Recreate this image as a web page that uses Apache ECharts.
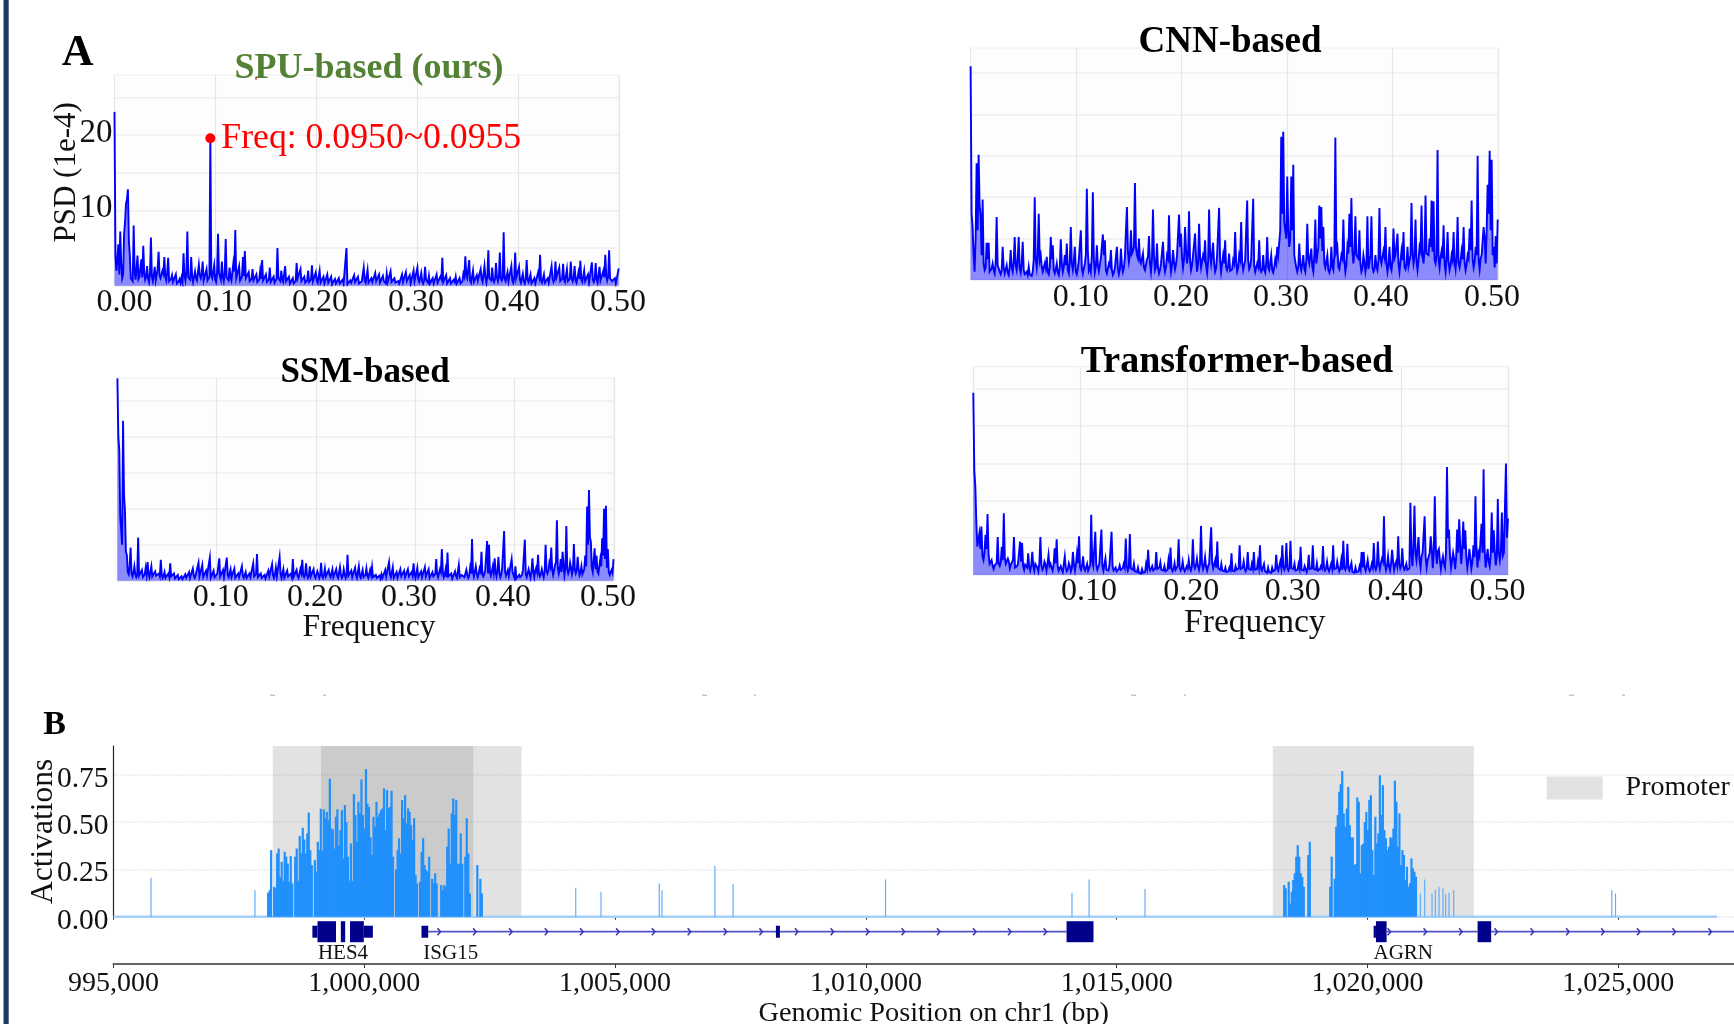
<!DOCTYPE html>
<html><head><meta charset="utf-8">
<style>html,body{margin:0;padding:0;background:#fff}#c{width:1734px;height:1024px}</style>
<script src="https://cdn.jsdelivr.net/npm/echarts@6/dist/echarts.min.js"></script>
</head><body><div id="c"></div>
<script>
const FREQ_STEP = 0.0019;
const freqTicks = ['0.10','0.20','0.30','0.40','0.50'];
const spuTicks = ['0.00','0.10','0.20','0.30','0.40','0.50'];
const spuValues = [
23.1,2.0,5.5,7.2,1.0,6.8,10.9,12.8,4.0,1.0,
8.0,0.8,4.0,1.2,3.5,5.3,0.8,2.6,0.5,6.4,
0.6,2.5,0.9,4.5,1.0,2.0,3.8,0.7,3.7,0.5,
1.4,0.4,1.5,0.4,0.9,1.1,4.3,0.7,7.2,1.0,
3.8,0.5,1.9,0.7,2.8,1.0,3.2,0.5,2.2,0.8,
19.6,1.0,2.7,0.5,6.9,1.6,3.2,0.6,6.2,1.0,
2.4,0.7,3.0,7.4,0.9,2.6,0.5,3.8,4.6,0.8,
1.8,0.5,2.2,0.6,1.5,0.4,2.0,3.4,0.6,1.5,
0.5,2.4,0.4,1.2,0.6,5.0,0.8,2.0,0.5,2.6,
0.6,1.2,0.3,1.0,0.4,3.0,0.8,2.2,0.4,1.2,
0.6,2.0,0.3,2.7,0.5,1.8,0.4,2.0,0.5,1.2,
0.4,1.5,0.3,1.2,0.5,0.9,0.3,1.0,0.3,0.8,
0.3,5.0,0.3,0.7,0.2,1.4,0.3,1.2,0.2,0.6,
2.4,0.4,2.1,0.4,1.0,0.3,1.7,0.4,1.5,0.3,
1.3,0.4,1.6,0.3,1.9,0.4,1.0,0.3,0.6,0.3,
1.5,0.3,1.8,0.4,1.4,0.3,2.0,0.4,2.4,0.5,
1.7,0.3,2.5,0.6,1.3,0.3,1.0,0.3,1.5,0.4,
1.2,3.7,0.3,1.4,0.3,1.0,0.4,0.8,1.2,0.3,
1.0,0.3,1.6,3.9,1.0,3.4,0.4,2.0,0.5,1.4,
0.6,2.2,0.5,2.6,0.4,4.7,0.9,2.4,0.5,3.0,
0.6,4.4,0.7,7.1,0.6,1.8,0.5,2.6,0.4,4.4,
1.0,2.5,0.4,1.6,0.3,3.4,0.5,1.5,0.4,1.0,
0.3,1.8,4.1,0.4,1.5,0.3,1.0,0.3,2.6,0.5,
3.2,1.0,2.4,0.4,2.9,0.5,2.2,0.4,3.2,0.6,
2.6,0.4,1.8,3.3,0.5,2.0,0.4,1.5,0.3,3.1,
0.5,3.0,0.4,2.5,0.6,2.0,4.1,0.7,4.7,1.2,0.4,1.0,0.3,2.3];
const spuBetween = [
4.0,3.5,1.5,3.0,1.5,8.5,11.5,6.0,1.0,0.6,
2.0,2.4,0.9,2.4,1.1,1.8,1.2,1.0,1.6,1.2,
1.5,0.7,2.2,1.4,1.0,1.6,1.2,1.8,0.6,0.9,
0.5,0.7,0.3,0.6,0.4,0.5,1.4,1.8,1.1,0.8,
1.3,0.6,1.0,0.9,1.4,1.6,0.7,0.9,0.7,1.2,
1.4,0.9,0.8,1.8,1.7,0.8,1.2,1.6,1.1,0.7,
1.1,0.8,1.9,1.0,0.9,0.7,1.2,1.3,1.0,0.9,
0.6,0.9,0.7,0.6,0.5,0.8,0.9,0.7,0.6,0.5,
0.8,0.5,0.7,0.4,0.9,1.0,0.6,0.8,0.7,0.6,
0.4,0.3,0.5,0.3,0.6,1.0,0.8,0.6,0.5,0.4,
0.7,0.5,0.8,0.6,0.5,0.7,0.6,0.4,0.5,0.3,
0.5,0.4,0.3,0.2,0.4,0.3,0.4,0.3,0.2,0.3,
0.3,0.2,0.3,0.4,0.3,0.5,0.4,0.3,0.3,0.6,
0.7,0.5,0.4,0.3,0.5,0.4,0.6,0.5,0.4,0.5,
0.6,0.3,0.5,0.4,0.5,0.3,0.4,0.3,0.3,0.4,
0.5,0.4,0.6,0.4,0.3,0.5,0.6,0.7,0.8,0.5,
0.6,0.7,0.8,0.4,0.3,0.4,0.3,0.5,0.4,0.3,
0.9,0.5,0.4,0.3,0.4,0.3,0.2,0.5,0.3,0.4,
0.3,0.6,1.2,1.4,1.1,0.7,0.6,0.5,0.6,0.7,
0.8,0.9,0.7,1.1,1.3,1.0,0.7,0.8,0.9,1.1,
1.2,1.0,1.1,0.9,0.7,0.6,0.8,0.7,1.1,1.0,
0.9,0.8,0.5,0.6,0.9,0.8,0.4,0.3,0.4,0.3,
0.5,1.2,0.7,0.5,0.4,0.3,0.4,0.6,0.9,0.9,
1.1,0.9,0.6,0.9,0.8,0.7,0.6,0.9,1.0,1.1,
0.7,0.6,0.9,0.8,0.7,0.6,0.5,0.4,0.6,0.8,
0.9,0.8,0.6,0.7,0.8,1.1,1.4,1.2,1.0,0.6,0.4,0.3,0.5];
const cnnValues = [
25.8,6.4,1.0,14.1,15.1,7.7,9.7,1.2,4.5,4.5,
1.0,2.0,0.8,7.6,2.0,0.7,4.0,0.8,1.8,0.6,
3.6,1.0,5.2,1.2,5.2,0.9,4.6,0.7,1.0,1.6,
0.6,1.0,10.0,1.5,8.0,3.0,1.0,2.0,2.8,0.7,
5.2,4.2,0.8,2.0,0.6,4.9,1.0,3.0,4.4,0.8,
6.4,1.2,4.0,0.7,2.4,6.0,0.8,2.0,11.0,1.2,
1.0,10.6,0.9,4.2,1.1,2.6,5.5,4.8,0.8,2.0,
3.6,0.6,1.5,4.0,0.7,3.8,1.0,2.8,8.8,2.2,
6.0,3.5,11.7,3.0,5.0,2.0,3.2,1.2,2.5,5.3,
1.0,8.5,1.2,4.4,0.8,2.0,4.6,1.0,3.0,7.8,
1.0,3.6,1.3,3.0,7.9,5.6,1.5,6.4,2.0,8.3,
1.2,3.0,5.6,1.0,6.8,1.5,3.0,4.8,0.9,8.5,
2.0,4.5,1.0,3.0,8.7,1.0,3.0,4.8,1.2,3.2,
0.9,2.4,5.8,1.0,3.0,7.0,1.2,2.4,9.6,1.3,
2.5,9.8,1.0,2.0,4.8,1.0,3.0,0.9,5.2,1.2,
3.0,0.9,2.5,4.0,3.0,17.3,17.9,6.0,12.5,4.0,
12.5,13.9,3.0,1.0,4.4,1.2,3.0,1.0,6.8,2.0,
3.8,1.0,7.3,3.0,9.0,8.8,6.4,1.5,3.0,0.9,
4.0,1.2,17.2,4.0,1.3,3.0,7.3,1.0,4.0,8.0,
9.9,2.0,7.7,3.0,6.0,1.0,3.0,1.0,7.7,1.2,
7.7,1.0,3.0,1.2,8.7,2.0,3.5,6.4,1.0,4.0,
1.2,6.2,3.0,5.6,1.0,3.5,5.8,1.3,4.0,1.5,
9.3,2.0,7.3,1.2,4.0,9.0,2.0,10.2,3.0,5.0,
9.6,9.5,2.0,15.7,1.5,3.5,6.6,1.0,5.8,1.2,
3.0,5.8,1.3,7.6,1.5,3.5,6.4,1.2,3.0,6.2,
9.6,1.5,4.0,15.0,1.3,3.0,6.4,2.0,11.5,15.6,14.5,4.0,5.3,7.3];
const cnnBetween = [
8.0,3.0,5.0,6.0,9.0,3.0,2.0,1.5,2.5,1.0,
1.4,1.2,2.0,1.8,1.0,1.2,1.5,1.0,0.9,1.6,
1.5,2.2,1.8,2.5,1.4,2.0,1.2,0.8,0.6,0.7,
0.5,2.5,2.5,3.0,2.4,1.6,1.2,1.4,1.0,1.5,
2.5,1.2,1.3,0.9,1.5,2.0,1.6,1.8,1.2,2.2,
2.0,2.2,1.0,1.4,2.6,1.5,1.0,3.0,3.5,1.6,
3.0,2.5,1.6,1.8,1.3,2.4,3.0,1.2,1.0,1.7,
1.2,0.9,1.6,1.4,1.3,1.8,1.5,3.0,3.5,3.0,
3.2,4.0,4.0,2.6,2.4,2.0,1.5,1.4,2.8,2.0,
2.5,3.0,1.6,1.5,1.2,2.2,1.8,1.6,2.6,2.4,
1.8,2.2,1.9,3.0,4.0,2.8,2.5,3.6,3.0,2.4,
1.8,3.0,2.6,2.0,2.8,1.7,2.6,1.8,2.2,3.0,
2.1,2.0,1.4,3.2,2.4,1.2,2.0,1.6,1.7,1.1,
1.3,2.0,2.2,1.4,2.5,2.1,1.4,2.6,2.4,1.6,
2.5,1.8,1.2,1.6,1.4,1.3,1.2,2.0,1.5,1.4,
1.2,1.5,2.0,3.0,6.0,8.0,7.0,5.0,6.0,5.0,
6.0,3.0,1.5,1.6,1.8,2.0,1.4,2.4,2.6,2.2,
1.6,3.0,2.0,4.0,5.0,3.5,2.0,1.6,1.2,1.4,
1.6,3.0,3.5,1.6,1.5,2.6,2.4,1.8,3.2,4.0,
3.5,3.4,3.0,2.6,2.0,1.4,2.2,1.8,1.3,3.0,
1.5,1.3,1.6,2.4,2.6,2.1,2.8,2.0,1.9,1.6,
2.4,2.6,2.8,2.0,2.2,2.4,1.6,1.9,1.7,3.0,
3.2,3.0,2.2,2.4,3.5,3.0,3.6,3.2,3.0,4.0,
3.4,2.4,3.0,2.5,2.8,2.6,2.0,2.5,2.2,1.8,
2.4,2.2,2.8,2.0,2.3,2.5,2.1,1.9,2.6,3.6,
2.5,2.2,3.0,2.4,2.6,3.0,5.0,6.0,8.0,6.0,3.0,1.5,2.0];
const ssmValues = [
28.1,18.1,7.0,22.2,9.8,3.6,0.9,4.6,0.6,2.0,
0.5,6.0,0.6,1.5,0.4,1.8,2.6,0.5,2.0,0.4,
1.3,0.5,1.0,2.9,0.4,1.2,0.3,1.0,2.4,0.4,
1.0,0.3,0.8,0.3,0.6,0.3,0.9,0.4,1.2,0.3,
1.7,0.4,1.0,2.5,0.5,2.2,0.4,1.4,0.5,3.2,
0.4,1.4,0.3,1.0,3.1,0.4,1.5,0.3,3.2,0.5,
1.6,0.3,1.7,0.4,1.0,0.3,2.0,0.4,1.2,0.3,
1.0,0.3,2.4,0.4,3.7,0.5,1.0,0.3,0.8,0.3,
1.4,0.4,2.3,0.4,1.8,0.5,3.3,0.4,1.6,0.3,
1.4,0.4,1.0,3.0,0.4,1.5,0.4,1.6,2.9,0.5,
2.4,0.4,2.0,0.5,1.6,0.4,1.3,0.4,2.5,0.4,
1.7,0.4,1.5,0.5,1.6,0.3,1.6,0.4,1.9,0.4,
1.6,0.4,3.6,0.5,1.4,0.4,1.8,0.4,2.0,0.4,
1.5,0.3,1.7,0.4,1.5,1.9,0.3,0.8,0.3,0.7,
0.9,0.3,1.5,0.4,2.6,0.5,1.9,0.3,1.2,0.3,
1.6,0.4,1.4,0.3,1.6,0.4,1.2,2.4,0.4,1.8,
0.4,1.3,0.3,1.9,0.4,1.6,0.3,1.2,0.5,3.0,
0.5,1.6,4.4,0.5,1.6,3.9,0.4,1.0,0.3,1.3,
0.4,2.2,0.4,1.0,0.5,1.5,0.4,1.8,5.8,0.6,
2.0,0.5,1.7,4.0,0.6,1.5,5.5,5.0,0.7,2.0,
3.1,0.6,3.3,0.5,1.8,6.9,0.7,1.5,0.6,3.0,
0.8,2.0,0.4,0.8,0.3,1.5,5.7,0.5,1.6,0.4,
3.1,0.5,1.8,3.6,0.6,1.6,0.5,5.0,1.0,2.5,
4.6,0.8,2.2,8.4,1.0,3.0,4.0,0.8,7.6,1.0,
2.5,0.9,5.1,1.0,3.3,0.8,2.0,1.0,3.5,10.3,
12.6,5.4,1.2,4.5,3.5,1.0,3.0,5.9,10.0,10.4,4.4,0.8,1.5,3.0];
const ssmBetween = [
20.0,9.0,5.0,12.0,4.0,1.2,2.0,1.0,1.1,0.9,
0.8,0.7,0.6,0.5,0.9,0.8,1.0,0.7,0.6,0.8,
0.7,0.5,0.6,0.9,0.7,0.4,0.3,0.5,0.6,0.4,
0.3,0.3,0.2,0.3,0.2,0.3,0.4,0.5,0.4,0.6,
0.7,0.8,0.9,0.6,0.7,0.5,0.6,0.7,0.5,0.4,
0.6,0.5,0.7,0.8,0.6,0.5,0.5,0.7,0.8,0.4,
0.5,0.6,0.4,0.3,0.5,0.6,0.7,0.5,0.4,0.3,
0.5,0.7,0.6,0.9,0.5,0.3,0.4,0.2,0.3,0.4,
0.6,0.7,0.8,0.9,0.6,0.8,1.0,0.6,0.4,0.5,
0.6,0.7,0.5,0.6,0.8,0.7,0.9,1.1,0.8,0.9,
0.8,0.7,0.6,0.8,0.7,0.6,0.9,0.8,0.7,0.8,
0.6,0.7,0.8,0.7,0.5,0.6,0.7,0.6,0.8,0.7,
0.9,0.8,0.7,0.6,0.5,0.7,0.8,0.6,0.7,0.6,
0.5,0.8,0.7,0.6,0.8,0.5,0.3,0.4,0.3,0.3,
0.4,0.5,0.6,0.8,0.9,0.6,0.4,0.5,0.4,0.5,
0.6,0.4,0.5,0.4,0.6,0.5,0.7,0.9,0.6,0.5,
0.4,0.5,0.4,0.6,0.5,0.4,0.3,0.6,0.9,1.0,
0.7,1.2,1.3,0.8,0.5,0.6,0.4,0.3,0.5,0.7,
0.6,0.5,0.8,0.9,0.6,0.8,0.7,1.0,1.2,0.8,
1.0,0.9,1.3,1.0,0.9,1.6,1.0,1.2,1.3,1.1,
1.2,1.4,1.1,0.9,1.6,1.3,0.8,0.7,0.9,1.2,
0.4,0.3,0.3,0.5,0.8,1.6,0.9,0.7,1.0,1.2,
1.3,1.4,1.2,1.0,0.9,1.8,1.2,1.5,1.4,2.0,
1.6,1.4,2.5,1.8,1.6,1.2,2.4,1.8,1.6,1.4,
1.8,1.5,1.6,1.4,1.6,1.2,0.9,1.6,2.0,5.0,
6.0,1.8,1.4,1.6,1.3,1.1,2.0,3.5,3.0,1.8,1.2,0.9,1.1];
const transformerValues = [
24.5,11.9,3.8,5.6,6.5,2.0,5.4,8.2,1.5,2.0,
0.8,1.5,5.1,1.2,3.8,8.3,1.5,2.2,0.9,1.6,
5.1,0.8,1.5,4.5,4.3,0.7,1.2,2.9,0.6,3.1,
0.6,1.4,0.5,5.1,0.7,1.8,0.6,2.7,1.5,0.6,
3.6,4.8,0.6,1.2,0.4,2.5,0.5,1.6,0.5,3.1,
0.6,2.9,5.2,0.7,2.5,0.6,1.5,0.5,8.1,1.2,
5.8,0.7,1.5,6.1,0.6,2.2,0.5,1.4,5.8,0.6,
1.0,0.4,1.3,0.5,1.5,4.9,0.6,5.5,0.7,1.5,
0.4,1.0,0.3,0.8,0.3,1.5,3.4,0.6,1.2,0.5,
3.1,0.6,1.7,0.5,1.2,0.6,2.0,3.7,0.5,1.6,
0.6,4.8,0.6,1.8,0.5,1.2,2.0,0.6,4.8,0.9,
2.2,0.7,6.6,0.8,2.4,0.6,1.5,6.4,0.9,2.0,
4.5,0.7,1.5,0.5,1.0,0.4,1.0,2.9,0.4,1.2,
0.6,4.0,0.6,1.8,0.5,3.1,0.6,1.5,3.1,0.5,
1.8,4.0,0.6,1.5,0.4,1.0,0.3,1.0,0.4,2.7,
0.6,1.8,4.0,0.7,4.3,0.6,4.6,0.7,1.5,0.4,
1.5,3.8,0.5,1.2,0.4,2.7,0.6,4.0,0.6,1.6,
0.4,1.2,3.9,0.6,1.8,0.5,1.5,4.0,0.6,1.8,
0.5,2.0,4.6,0.7,4.2,0.6,1.6,0.4,1.0,0.3,
1.2,3.1,3.1,0.6,2.0,0.5,1.5,4.3,0.7,4.5,
0.8,2.2,7.9,0.7,2.5,0.6,3.4,0.7,1.8,5.2,
0.9,3.6,0.7,1.5,0.6,9.7,1.2,9.3,2.0,5.1,
1.0,3.0,7.9,1.0,2.5,5.2,0.9,10.6,1.5,3.5,
0.8,2.5,1.0,14.5,6.1,1.0,3.0,0.8,6.1,7.5,
1.5,7.2,6.0,1.0,3.5,0.9,4.0,10.6,1.0,2.5,
6.9,14.2,1.0,3.5,1.2,8.4,6.0,1.3,10.2,2.0,8.4,3.0,15.0,7.6];
const transformerBetween = [
14.0,7.0,4.0,3.5,2.5,3.0,3.5,2.8,1.5,1.2,
1.3,1.6,1.5,1.7,2.0,2.4,1.6,1.8,1.4,2.0,
1.0,1.2,1.5,1.8,1.2,1.4,1.0,1.1,1.3,1.2,
1.5,1.0,1.6,1.3,1.0,1.4,1.5,1.2,1.0,1.3,
1.6,1.2,0.9,0.7,0.5,0.9,0.8,1.2,1.0,1.4,
1.5,1.6,1.0,1.3,0.9,0.7,0.6,1.3,1.8,1.4,
1.3,0.9,1.4,1.2,0.8,0.7,0.6,1.3,1.2,0.6,
0.5,0.8,0.7,0.9,1.0,1.2,1.0,0.9,0.7,0.5,
0.4,0.3,0.2,0.3,0.4,0.9,1.0,0.7,0.6,0.9,
0.8,1.0,0.7,0.6,0.5,0.7,0.8,0.9,0.8,0.7,
1.2,1.0,0.9,0.8,0.7,0.9,1.0,1.1,1.4,1.3,
1.2,1.4,1.6,1.3,1.1,1.2,1.5,1.6,1.1,1.0,
0.9,0.7,0.6,0.5,0.4,0.5,0.7,0.6,0.5,0.7,
0.9,0.8,1.0,0.8,0.9,0.8,0.7,0.9,0.7,0.8,
1.0,0.9,0.6,0.5,0.3,0.4,0.3,0.5,0.7,0.9,
0.8,1.0,1.1,1.2,0.9,1.0,0.9,0.8,0.6,0.7,
0.9,0.7,0.6,0.8,0.9,0.8,0.9,0.8,0.7,0.6,
0.8,0.9,1.0,0.9,0.8,0.7,0.9,0.8,0.9,1.0,
0.9,0.7,1.0,1.1,0.9,0.7,0.4,0.3,0.4,0.5,
0.7,1.0,1.1,1.2,0.9,0.8,1.0,1.1,1.2,1.5,
1.6,1.8,1.5,1.3,1.1,1.6,1.8,1.4,1.2,1.5,
1.3,1.2,1.0,0.7,0.9,3.0,4.0,3.0,3.5,2.0,
2.5,3.0,2.4,2.0,3.0,3.5,3.0,3.6,3.2,2.0,
1.8,1.5,3.0,5.0,2.5,2.0,2.2,2.4,3.0,4.0,
3.6,3.5,2.5,2.0,2.2,1.8,2.4,3.4,3.0,2.5,
3.0,3.5,2.2,1.8,2.6,3.0,3.2,2.5,3.0,3.2,2.6,3.0,5.0];
// frequencies at which the (hand-placed) tick labels sit in each panel
const spuLabelAt = [0.0099,0.1085,0.2037,0.2988,0.3940,0.4990];
const cnnLabelAt = [0.1045,0.1995,0.2943,0.3891,0.4943];
const ssmLabelAt = [0.1040,0.1990,0.2937,0.3884,0.4942];
const transformerLabelAt = [0.1081,0.2038,0.2986,0.3945,0.4900];
const highlightPoint = [[0.095,19.6]];
const highlightText = 'Freq: 0.0950~0.0955';

const ACT_STEP = 30;
const act1Start = 998073;
const act1Values = [.127,.14,.352,0,.158,.15,.334,.36,.21,.29,.19,.343,.317,.28,.185,.32,.176,0,.317,.36,.19,.426,.334,.47,.408,.334,.44,.55,.352,.273,0,.30,.238,.396,.352,.57,.35,.567,.52,.554,.51,.73,.466,.46,.36,.528,.567,.378,.458,.563,.308,.59,.50,.317,.19,.387,.19,.648,.537,.396,.607,.546,.725,.537,.466,.78,.598,.58,.42,.326,.528,.475,
.607,.528,.546,.563,.572,.678,.458,.669,.572,.58,.665,.317,0,.25,.352,.414,.334,.616,.52,.642,.493,.572,.554,.484,.405,.52,.22,.176,0,.185,.343,.414,.273,.246,.238,.317,0,.2,.176,.229,.176,0,0,.167,.14,.167,.158,.37,.466,.28,.546,.625,.537,.616,.28,.28,.44,.28,0,.317,.52,.334,.123,0,0,0,0,.273,0,.2,.123];
const act2Start = 1018329;
const act2Values = [.167,.15,0,.185,.07,.132,.194,.229,.317,.378,.317,.229,.21,.158,0,0,.326,.396];
const act3Start = 1019246;
const act3Values = [.158,.317,0,.2,.475,.537,.66,.70,.77,.546,.475,.572,.686,.484,.419,.419,.273,.278,.63,.607,.229,.378,.387,.50,.554,.458,.616,.642,.352,.22,.528,.387,.44,.748,.537,.695,.458,.414,.352,.37,.42,.414,.466,.718,.607,.37,.546,.273,.352,.326,.194,.264,.158,.176,.308,.255,.238,.211];
const actSpikes = [[995748,.206],[997820,.14],[1004215,.153],[1004719,.132],[1005880,.176],[1005935,.14],[1006990,.268],[1007352,.172],[1010391,.197],[1014108,.127],[1014450,.197],[1015564,.146],[1021053,.123],[1021139,.197],[1021286,.123],[1021352,.144],[1021425,.158],[1021505,.15],[1021558,.12],[1021625,.127],[1021718,.14],[1024870,.14],[1024944,.123]];
const actBaseline = [[995000,0],[1026970,0]];
const promoters = [[998176,1002172],[999137,1003134],[1018113,1022119]];
const genomicTicks = [995000,1000000,1005000,1010000,1015000,1020000,1025000];
const activationTicks = [0,0.25,0.5,0.75];
const geneLines = [[1001274,1014000],[1020380,1022194],[1022465,1027306]];
const geneThin = [[998965,999067],[999990,1000171],[1001140,1001274],[1008206,1008285],[1020122,1020168]];
const geneThick = [[999067,999436],[999532,999619],[999715,999990],[1014000,1014537],[1020168,1020380],[1022194,1022465]];
const geneArrows = [1001489,1002199,1002917,1003628,1004332,1005050,1005763,1006477,1007195,1007907,1008615,1009327,1010030,1010742,1011447,1012165,1012863,1013573,1020429,1021147,1021856,1022562,1023280,1023990,1024689,1025401,1026110,1026827];
const geneNames = [['HES4',999575],['ISG15',1001724],['AGRN',1020712]];

const FONT = 'Liberation Serif';
const psdTicks = [0,5,10,15,20,25];
const FREQ_MAX = 0.5, PSD_MAX = 28;
const GENOME_MIN = 995000, GENOME_MAX = 1027306;
const ACT_MAX = 0.902;
const GENE_Y = 0.687, GENE_LABEL_Y = 0.22;

// each spectrum alternates its read peaks with the low values read between them
const toSpectrum = (vs,mid) => {const out=[];vs.forEach((v,i)=>{out.push([+(i*FREQ_STEP).toFixed(5),v]);
  if(i<vs.length-1&&mid[i]!==undefined)out.push([+((i+0.5)*FREQ_STEP).toFixed(5),mid[i]]);});return out;};
const toAct = (start,vs) => vs.map((v,i)=>[start+i*ACT_STEP,v]).filter(d=>d[1]>0);

const panelLayout = [
 {left:114.5,right:619,top:75,bottom:285.7,max:PSD_MAX,vals:spuValues,mid:spuBetween,ticks:spuTicks,at:spuLabelAt,margin:1},
 {left:970.6,right:1498,top:48,bottom:280,max:PSD_MAX,vals:cnnValues,mid:cnnBetween,ticks:freqTicks,at:cnnLabelAt,margin:2},
 {left:117.4,right:613.8,top:378,bottom:580.7,max:28.15,vals:ssmValues,mid:ssmBetween,ticks:freqTicks,at:ssmLabelAt,margin:1,xname:1,pad:7,nameSize:31.5,nameGap:31.5},
 {left:973.3,right:1508.3,top:366.7,bottom:575,max:PSD_MAX,vals:transformerValues,mid:transformerBetween,ticks:freqTicks,at:transformerLabelAt,margin:1,xname:1,pad:28,nameSize:33.5,nameGap:31}
];
const grids=[],xAxes=[],yAxes=[],series=[];
panelLayout.forEach((p,i)=>{
 grids.push({left:p.left,width:p.right-p.left,top:p.top,height:p.bottom-p.top,outerBoundsMode:'none',show:true,backgroundColor:'#fdfdfd',borderColor:'#eeeeee',borderWidth:1});
 xAxes.push({gridIndex:i,type:'value',min:0,max:FREQ_MAX,interval:0.1,
  axisLine:{show:false},axisTick:{show:false},
  splitLine:{show:true,lineStyle:{color:'#e6e6e6',width:1.2}},
  axisLabel:{show:true,customValues:p.at,margin:p.margin,fontFamily:FONT,fontSize:32,color:'#111',hideOverlap:false,
   formatter:v=>{const k=p.at.findIndex(a=>Math.abs(a-v)<1e-6);return k>=0?p.ticks[k]:'';}},
  name:p.xname?'Frequency':'',nameLocation:'middle',nameGap:p.nameGap||31,nameMoveOverlap:false,
  nameTextStyle:{fontFamily:FONT,fontSize:p.nameSize||30,color:'#111',padding:[0,0,0,p.pad||0]}});
 yAxes.push({gridIndex:i,type:'value',min:0,max:p.max,
  axisLine:{show:false},axisTick:{show:false,customValues:psdTicks},
  splitLine:{show:true,lineStyle:{color:'#eeeeee',width:1.5}},
  axisLabel:i===0?{show:true,customValues:[10,20],margin:2,fontFamily:FONT,fontSize:33,color:'#111',verticalAlign:'top',padding:[-18.7,0,0,0]}:{show:false},
  name:i===0?'PSD (1e-4)':'',nameLocation:'middle',nameRotate:90,nameGap:32,nameMoveOverlap:false,
  nameTextStyle:{fontFamily:FONT,fontSize:31,color:'#111',padding:[0,0,0,16]}});
 series.push({type:'line',name:'PSD'+i,xAxisIndex:i,yAxisIndex:i,data:toSpectrum(p.vals,p.mid),showSymbol:false,symbol:'none',
  lineStyle:{color:'#0000ff',width:1.9,join:'miter'},areaStyle:{color:'#0000ff',opacity:0.45},sampling:false,animation:false,z:3});
});
series.push({type:'scatter',xAxisIndex:0,yAxisIndex:0,data:highlightPoint,symbolSize:10,itemStyle:{color:'#ff0000',opacity:1},z:5,animation:false,
 label:{show:true,position:'right',distance:6,formatter:highlightText,fontFamily:FONT,fontSize:35.7,color:'#ff0000',opacity:1}});

// Panel B: activation grid (4) and gene track grid (5)
grids.push({left:113.5,right:0,top:746,height:170.7,outerBoundsMode:'none'});
grids.push({left:113.5,right:0,top:917,height:47,outerBoundsMode:'none'});
xAxes.push({gridIndex:4,type:'value',min:GENOME_MIN,max:GENOME_MAX,
 axisLine:{show:false},axisTick:{show:true,customValues:genomicTicks,length:3,lineStyle:{color:'#222',width:1}},
 axisLabel:{show:false},splitLine:{show:false}});
xAxes.push({gridIndex:5,type:'value',min:GENOME_MIN,max:GENOME_MAX,
 axisLine:{show:true,lineStyle:{color:'#666',width:2}},
 axisTick:{show:true,customValues:genomicTicks,length:4,lineStyle:{color:'#333',width:1}},
 axisLabel:{show:true,customValues:genomicTicks,margin:5.5,fontFamily:FONT,fontSize:28,color:'#111',formatter:v=>v.toLocaleString('en-US')},
 splitLine:{show:false},
 name:'Genomic Position on chr1 (bp)',nameLocation:'middle',nameGap:36,nameMoveOverlap:false,
 nameTextStyle:{fontFamily:FONT,fontSize:28.3,color:'#111',padding:[0,0,0,20]}});
yAxes.push({gridIndex:4,type:'value',min:0,max:ACT_MAX,
 axisLine:{show:true,onZero:false,lineStyle:{color:'#222',width:1.2}},
 axisTick:{show:false,customValues:activationTicks},
 axisLabel:{show:true,customValues:activationTicks,margin:5,fontFamily:FONT,fontSize:29.5,color:'#111',verticalAlign:'top',padding:[-10.75,0,0,0],formatter:v=>v.toFixed(2)},
 splitLine:{show:true,lineStyle:{color:'#e4e4e4',width:1.5,type:'dotted'}},
 name:'Activations',nameLocation:'middle',nameRotate:90,nameGap:54,nameMoveOverlap:false,
 nameTextStyle:{fontFamily:FONT,fontSize:31.5,color:'#111'}});
yAxes.push({gridIndex:5,type:'value',min:0,max:1,show:false});

series.push({type:'custom',name:'Promoter',xAxisIndex:4,yAxisIndex:4,data:promoters,z:1,silent:true,animation:false,
 itemStyle:{color:'#e2e2e2'},encode:{x:[0,1]},clip:true,
 renderItem:(params,api)=>{const a=api.coord([api.value(0),ACT_MAX]),b=api.coord([api.value(1),0]);
  return {type:'rect',shape:{x:a[0],y:a[1],width:b[0]-a[0],height:b[1]-a[1]},style:{fill:'rgba(128,128,128,0.23)'}};}});
series.push({type:'line',xAxisIndex:4,yAxisIndex:4,data:actBaseline,symbol:'none',lineStyle:{color:'#a6cff8',width:2.5},z:2,animation:false,silent:true});
series.push({type:'bar',xAxisIndex:4,yAxisIndex:4,barWidth:2.2,itemStyle:{color:'#2090fc'},z:3,animation:false,silent:true,large:false,
 data:[...toAct(act1Start,act1Values),...toAct(act2Start,act2Values),...toAct(act3Start,act3Values)]});
series.push({type:'bar',xAxisIndex:4,yAxisIndex:4,barWidth:1.2,barGap:'-100%',itemStyle:{color:'#62aefa'},z:3,animation:false,silent:true,data:actSpikes});

const rectSeries=(data,half,color,z)=>({type:'custom',xAxisIndex:5,yAxisIndex:5,data,z,animation:false,silent:true,encode:{x:[0,1]},
 renderItem:(params,api)=>{const a=api.coord([api.value(0),GENE_Y]),b=api.coord([api.value(1),GENE_Y]);
  return {type:'rect',shape:{x:a[0],y:a[1]-half,width:b[0]-a[0],height:half*2},style:{fill:color}};}});
series.push(rectSeries(geneLines,0.9,'#5555c6',2));
series.push(rectSeries(geneThin,6,'#00008b',3));
series.push(rectSeries(geneThick,10.5,'#00008b',4));
series.push({type:'custom',xAxisIndex:5,yAxisIndex:5,data:geneArrows.map(x=>[x]),z:3,animation:false,silent:true,encode:{x:0},
 renderItem:(params,api)=>{const c=api.coord([api.value(0),GENE_Y]);
  return {type:'polyline',shape:{points:[[c[0]-1.5,c[1]-3.5],[c[0]+1.5,c[1]],[c[0]-1.5,c[1]+3.5]]},style:{fill:'none',stroke:'#3535b5',lineWidth:1.5}};}});
series.push({type:'scatter',xAxisIndex:5,yAxisIndex:5,symbolSize:0,z:5,animation:false,silent:true,itemStyle:{opacity:1},
 data:geneNames.map(g=>({name:g[0],value:[g[1],GENE_LABEL_Y]})),
 label:{show:true,position:'inside',formatter:'{b}',fontFamily:FONT,fontSize:21,color:'#111',opacity:1}});

const titleStyle=(size,color)=>({fontFamily:FONT,fontWeight:'bold',fontSize:size,color:color||'#000'});
const option={
 backgroundColor:'#ffffff',animation:false,
 title:[
  {text:'SPU-based (ours)',left:364,top:46,textAlign:'center',textStyle:titleStyle(36,'#548235')},
  {text:'CNN-based',left:1225,top:19,textAlign:'center',textStyle:titleStyle(37)},
  {text:'SSM-based',left:360,top:350,textAlign:'center',textStyle:titleStyle(35)},
  {text:'Transformer-based',left:1232,top:338,textAlign:'center',textStyle:titleStyle(38)},
  {text:'A',left:72.6,top:27,textAlign:'center',textStyle:titleStyle(44)},
  {text:'B',left:49.6,top:703,textAlign:'center',textStyle:titleStyle(34)}
 ],
 legend:{show:true,selectedMode:false,left:1541.6,top:769,itemWidth:56,itemHeight:23,itemGap:0,
  data:[{name:'Promoter',icon:'rect',itemStyle:{color:'#e2e2e2'}}],
  textStyle:{fontFamily:FONT,fontSize:28,color:'#111',padding:[0,0,0,18]}},
 grid:grids,xAxis:xAxes,yAxis:yAxes,series,
 graphic:[
  {type:'rect',silent:true,shape:{x:3.5,y:0,width:5.2,height:1024},style:{fill:'#1f3864'}},
  {type:'circle',silent:true,shape:{cx:256,cy:78.7,r:1},style:{fill:'#ff3030'}},
  ...[[270,5],[323,3],[702,5],[754,2],[1131,5],[1184,2],[1569,5],[1622,3]].map(d=>({type:'rect',silent:true,shape:{x:d[0],y:694.5,width:d[1],height:1.5},style:{fill:'#c4c4c4'}}))
 ]
};
const chart=echarts.init(document.getElementById('c'),null,{renderer:'canvas',width:1734,height:1024});
chart.setOption(option);
</script></body></html>
